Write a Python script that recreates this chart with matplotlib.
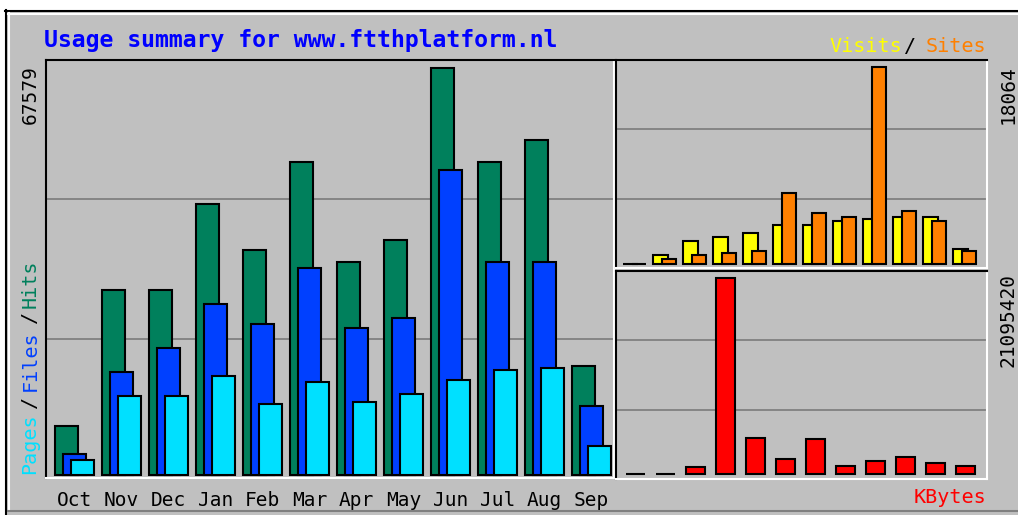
import matplotlib
matplotlib.use("Agg")
import matplotlib.pyplot as plt
from matplotlib.patches import Rectangle
from matplotlib.lines import Line2D

# monthly stats
months = ["Oct", "Nov", "Dec", "Jan", "Feb", "Mar", "Apr", "May", "Jun", "Jul", "Aug", "Sep"]
hits = [8140, 30700, 30700, 45000, 37350, 52000, 35370, 39000, 67579, 52000, 55600, 18100]
files = [3500, 17100, 21100, 28400, 25070, 34400, 24400, 26100, 50600, 35400, 35400, 11500]
pages = [2500, 13100, 13100, 16400, 11800, 15400, 12100, 13450, 15770, 17430, 17760, 4800]
visits = [0, 820, 2100, 2460, 2830, 3560, 3560, 3920, 4100, 4290, 4290, 1370]
sites = [0, 460, 820, 1000, 1190, 6480, 4650, 4290, 18064, 4840, 3920, 1190]
kbytes = [0, 0, 750000, 21095420, 3855000, 1606000, 3748000, 857000, 1392000, 1820000, 1178000, 857000]

W, H = 1018, 515
GREY = "#C0C0C0"
DKGREY = "#808080"
C_HITS = "#00805C"
C_FILES = "#0040FF"
C_PAGES = "#00E0FF"
C_VISITS = "#FFFF00"
C_SITES = "#FF8000"
C_KB = "#FF0000"
MONO = "DejaVu Sans Mono"


def fx(x):
    return x / W


def fy(y):
    return 1 - y / H


def panel(fig, x0, y0, x1, y1):
    ax = fig.add_axes([fx(x0), fy(y1), fx(x1) - fx(x0), fy(y0) - fy(y1)])
    ax.set_facecolor(GREY)
    ax.spines["top"].set_color("black")
    ax.spines["left"].set_color("black")
    ax.spines["bottom"].set_color("white")
    ax.spines["right"].set_color("white")
    for s in ax.spines.values():
        s.set_linewidth(1.5)
    ax.tick_params(length=0, labelleft=False, labelbottom=False)
    return ax


def thirds_grid(ax, lo, hi):
    ax.set_ylim(lo, hi)
    ax.set_yticks([lo + (hi - lo) / 3, lo + 2 * (hi - lo) / 3])
    ax.grid(axis="y", color=DKGREY, linewidth=1.3)
    ax.set_axisbelow(True)


fig = plt.figure(figsize=(W / 100, H / 100), dpi=100, facecolor="white")

# outer 3d box
fig.patches.append(Rectangle((fx(5), fy(515)), fx(1018) - fx(5), fy(10) - fy(515),
                             facecolor=GREY, edgecolor="none", transform=fig.transFigure,
                             zorder=-10))
fig.add_artist(Line2D([fx(5), fx(1018)], [fy(10.5), fy(10.5)], color="black", lw=1.5))
fig.add_artist(Line2D([fx(5.5), fx(5.5)], [fy(10), fy(515)], color="black", lw=1.5))
fig.add_artist(Line2D([fx(8), fx(1018)], [fy(13.5), fy(13.5)], color="white", lw=1.5))
fig.add_artist(Line2D([fx(8.5), fx(8.5)], [fy(13), fy(510)], color="white", lw=1.5))
fig.add_artist(Line2D([fx(8), fx(1018)], [fy(511), fy(511)], color=DKGREY, lw=1.5))

x = list(range(len(months)))

# hits / files / pages
ax1 = panel(fig, 46, 60, 614, 478)
m = max(hits)
thirds_grid(ax1, -3 / 407 * m, 415 / 407 * m)
ax1.set_xlim(-9 / 47, -9 / 47 + 568 / 47)
bw = 0.49
ax1.bar([i for i in x], hits, width=bw, align="edge", color=C_HITS, edgecolor="black", linewidth=1.5)
ax1.bar([i + 0.175 for i in x], files, width=bw, align="edge", color=C_FILES, edgecolor="black", linewidth=1.5)
ax1.bar([i + 0.35 for i in x], pages, width=bw, align="edge", color=C_PAGES, edgecolor="black", linewidth=1.5)
ax1.set_xticks([i + 0.42 for i in x])
ax1.set_xticklabels(months, family=MONO, fontsize=14)
ax1.tick_params(axis="x", labelbottom=True, pad=9)

# visits / sites
ax2 = panel(fig, 616, 60, 987, 268)
m = max(sites)
thirds_grid(ax2, -4 / 197 * m, 204 / 197 * m)
ax2.set_xlim(-7 / 30, -7 / 30 + 371 / 30)
ax2.bar(x, visits, width=0.5, align="edge", color=C_VISITS, edgecolor="black", linewidth=1.5)
ax2.bar([i + 0.3 for i in x], sites, width=0.47, align="edge", color=C_SITES, edgecolor="black", linewidth=1.5)

# kbytes
ax3 = panel(fig, 616, 271, 987, 479)
m = max(kbytes)
thirds_grid(ax3, -5 / 196 * m, 203 / 196 * m)
ax3.set_xlim(-7 / 30, -7 / 30 + 371 / 30)
ax3.bar([i + 0.1 for i in x], kbytes, width=0.633, align="edge", color=C_KB, edgecolor="black", linewidth=1.5)

# texts
fig.text(fx(44), fy(47), "Usage summary for www.ftthplatform.nl", color="#0000FF",
         family=MONO, fontweight="bold", fontsize=16.7, va="baseline", ha="left")
fig.text(fx(30.5), fy(65), str(max(hits)), rotation=90, family=MONO, fontsize=14,
         ha="center", va="top")
fig.text(fx(1008), fy(65), str(max(sites)), rotation=90, family=MONO, fontsize=14,
         ha="center", va="top")
fig.text(fx(1008), fy(273), str(max(kbytes)), rotation=90, family=MONO, fontsize=14,
         ha="center", va="top")

for txt, col, yb in [("Pages", C_PAGES, 474), ("/", "black", 408), ("Files", C_FILES, 391),
                     ("/", "black", 323), ("Hits", C_HITS, 308)]:
    fig.text(fx(30), fy(yb), txt, color=col, rotation=90, family=MONO, fontsize=14.5,
             ha="center", va="bottom")

fig.text(fx(829), fy(52), "Visits", color=C_VISITS, family=MONO, fontsize=14.5, va="baseline", ha="left")
fig.text(fx(904), fy(52), "/", color="black", family=MONO, fontsize=14.5, va="baseline", ha="left")
fig.text(fx(986), fy(52), "Sites", color=C_SITES, family=MONO, fontsize=14.5, va="baseline", ha="right")
fig.text(fx(986), fy(503), "KBytes", color=C_KB, family=MONO, fontsize=14.5, va="baseline", ha="right")

fig.savefig("out.png", dpi=100, facecolor="white")
